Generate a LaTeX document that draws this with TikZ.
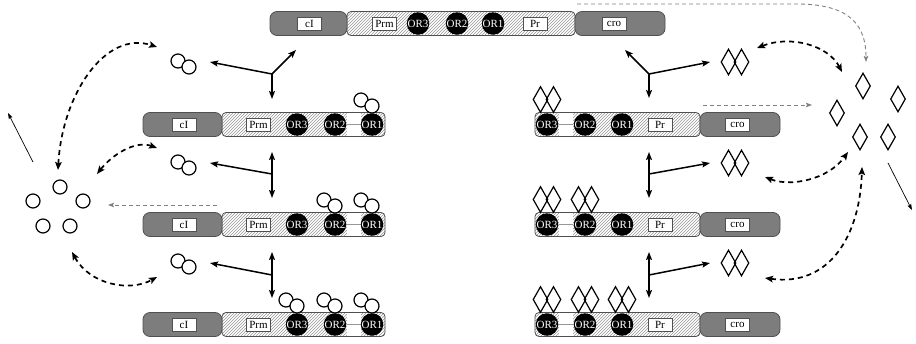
\documentclass[tikz,border=0pt]{standalone}
\usepackage{fontspec}
\setmainfont{Liberation Serif}
\usetikzlibrary{shapes.geometric,arrows.meta,patterns}

\definecolor{segdark}{RGB}{125,125,125}
\definecolor{segline}{RGB}{80,80,80}
\definecolor{hatchgray}{RGB}{150,150,150}

\tikzset{
  gene/.style={fill=segdark, draw=segline, line width=0.8pt, rounded corners=7pt},
  promoter/.style={pattern=north east lines, pattern color=hatchgray, draw=segline, line width=0.8pt, rounded corners=4pt},
  spacer/.style={fill=white, draw=none},
  spacerline/.style={draw=hatchgray, line width=0.6pt},
  lbl/.style={draw=segline, fill=white, line width=0.7pt, minimum width=24pt, minimum height=13pt, inner sep=0pt, font=\fontsize{11}{12}\selectfont},
  oper/.style={circle, fill=black, text=white, minimum size=22.5pt, inner sep=0pt, font=\fontsize{11}{12}\selectfont},
  ci/.style={circle, draw=black, fill=white, line width=1.2pt, minimum size=14pt, inner sep=0pt},
  cro/.style={diamond, draw=black, line width=1.2pt, minimum width=15pt, minimum height=26pt, inner sep=0pt},
  crofill/.style={diamond, fill=white, draw=none, minimum width=15pt, minimum height=26pt, inner sep=0pt},
  flux/.style={line width=1.5pt, -{Stealth[length=8pt,width=6pt,inset=1.5pt]}},
  fluxboth/.style={line width=1.5pt, {Stealth[length=8pt,width=6pt,inset=1.5pt]}-{Stealth[length=8pt,width=6pt,inset=1.5pt]}},
  exchange/.style={line width=1.7pt, dash pattern=on 5pt off 4pt, {Stealth[length=8pt,width=6.5pt,inset=1.5pt]}-{Stealth[length=8pt,width=6.5pt,inset=1.5pt]}},
  feed/.style={draw=gray, line width=0.9pt, dash pattern=on 4pt off 3pt, -{Stealth[length=6pt,width=4.5pt,inset=1pt]}, gray},
  decay/.style={line width=0.7pt, -{Stealth[length=6pt,width=4pt,inset=1pt]}},
}

% cI dimer: two overlapping circles
\newcommand\cidimer[3]{% name, x, y of the lower right circle
  \node[ci] (#1a) at (#2-11,#3-6) {};
  \node[ci] (#1b) at (#2,#3) {};
}
% Cro dimer: two overlapping diamonds
\newcommand\crodimer[3]{% name, x, y
  \node[crofill] at (#2-6.5,#3) {};
  \node[crofill] at (#2+6.5,#3) {};
  \node[cro] (#1a) at (#2-6.5,#3) {};
  \node[cro] (#1b) at (#2+6.5,#3) {};
}

% left operon: cI gene, Prm, OR3 OR2 OR1
\newcommand\leftoperon[2]{% name, y centre
  \draw[promoter] (222,#2-12) rectangle (385,#2+12);
  \fill[spacer] (347,#2-11.5) rectangle (361,#2+11.5);
  \draw[spacerline] (347,#2) -- (361,#2);
  \draw[gene] (143,#2-12) rectangle (222,#2+12);
  \node[lbl] (#1-cI) at (184,#2) {cI};
  \node[lbl] (#1-Prm) at (258.5,#2) {Prm};
  \node[oper] (#1-OR3) at (297,#2) {OR3};
  \node[oper] (#1-OR2) at (335,#2) {OR2};
  \node[oper] (#1-OR1) at (372,#2) {OR1};
}
% right operon: OR3 OR2 OR1, Pr, cro gene
\newcommand\rightoperon[2]{% name, y centre
  \draw[promoter] (535,#2-12) rectangle (700,#2+12);
  \fill[spacer] (559,#2-11.5) rectangle (573,#2+11.5);
  \draw[spacerline] (559,#2) -- (573,#2);
  \draw[gene] (700,#2-12) rectangle (780,#2+12);
  \node[oper] (#1-OR3) at (547,#2) {OR3};
  \node[oper] (#1-OR2) at (585,#2) {OR2};
  \node[oper] (#1-OR1) at (622,#2) {OR1};
  \node[lbl] (#1-Pr) at (660,#2) {Pr};
  \node[lbl] (#1-cro) at (737.5,#2) {cro};
}

\begin{document}
\begin{tikzpicture}[x=1pt, y=-1pt]
\useasboundingbox (0,0) rectangle (916,343);

% ---------- full operon ----------
\draw[promoter] (347,11.5) rectangle (575,35.5);
\draw[gene] (270,11.5) rectangle (347,35.5);
\draw[gene] (575,11.5) rectangle (665,35.5);
\node[lbl] (top-cI) at (309.5,23.5) {cI};
\node[lbl] (top-Prm) at (384.5,23.5) {Prm};
\node[oper] (top-OR3) at (418,23.5) {OR3};
\node[oper] (top-OR2) at (457,23.5) {OR2};
\node[oper] (top-OR1) at (493,23.5) {OR1};
\node[lbl] (top-Pr) at (535,23.5) {Pr};
\node[lbl] (top-cro) at (614,23.5) {cro};

% ---------- cI side ----------
\leftoperon{L1}{124.5}
\leftoperon{L2}{224.5}
\leftoperon{L3}{324.5}
\cidimer{bL1a}{372}{106}
\cidimer{bL2a}{335}{206}
\cidimer{bL2b}{372}{206}
\cidimer{bL3a}{297}{306}
\cidimer{bL3b}{335}{306}
\cidimer{bL3c}{372}{306}

% ---------- cro side ----------
\rightoperon{R1}{124.5}
\rightoperon{R2}{224.5}
\rightoperon{R3}{324.5}
\crodimer{bR1a}{547}{99.5}
\crodimer{bR2a}{547}{199.5}
\crodimer{bR2b}{585}{199.5}
\crodimer{bR3a}{547}{299.5}
\crodimer{bR3b}{585}{299.5}
\crodimer{bR3c}{622}{299.5}

% ---------- free dimers ----------
\cidimer{fL1}{189}{67}
\cidimer{fL2}{189}{168}
\cidimer{fL3}{189}{267}
\crodimer{fR1}{735}{62}
\crodimer{fR2}{735}{163}
\crodimer{fR3}{735}{263}

% ---------- monomer pools ----------
\node[ci] (m1) at (33,201) {};
\node[ci] (m2) at (60,187) {};
\node[ci] (m3) at (83,201) {};
\node[ci] (m4) at (43,226) {};
\node[ci] (m5) at (70,226) {};
\node[crofill] at (863,86) {};
\node[cro] (c1) at (863,86) {};
\node[cro] (c2) at (898,99) {};
\node[cro] (c3) at (837,113) {};
\node[cro] (c4) at (860,137) {};
\node[cro] (c5) at (888,137) {};

% ---------- binding / unbinding fluxes ----------
\coordinate (jL0) at (272,74);
\coordinate (uL0) at (296,50);
\coordinate (dL0) at (272,99);
\coordinate (sL0) at (210,62);
\draw[flux] (jL0) -- (uL0);
\draw[flux] (jL0) -- (dL0);
\draw[flux] (jL0) -- (sL0);

\coordinate (jR0) at (649,74);
\coordinate (uR0) at (625,50);
\coordinate (dR0) at (649,98);
\coordinate (sR0) at (710,62);
\draw[flux] (jR0) -- (uR0);
\draw[flux] (jR0) -- (dR0);
\draw[flux] (jR0) -- (sR0);

\coordinate (uL1) at (272,152);
\coordinate (dL1) at (272,198);
\coordinate (jL1) at (272,174);
\coordinate (sL1) at (210,163);
\draw[fluxboth] (uL1) -- (dL1);
\draw[flux] (jL1) -- (sL1);

\coordinate (uL2) at (272,252);
\coordinate (dL2) at (272,298);
\coordinate (jL2) at (272,275);
\coordinate (sL2) at (210,263);
\draw[fluxboth] (uL2) -- (dL2);
\draw[flux] (jL2) -- (sL2);

\coordinate (uR1) at (649,152);
\coordinate (dR1) at (649,198);
\coordinate (jR1) at (649,174);
\coordinate (sR1) at (710,163);
\draw[fluxboth] (uR1) -- (dR1);
\draw[flux] (jR1) -- (sR1);

\coordinate (uR2) at (649,252);
\coordinate (dR2) at (649,298);
\coordinate (jR2) at (649,275);
\coordinate (sR2) at (710,263);
\draw[fluxboth] (uR2) -- (dR2);
\draw[flux] (jR2) -- (sR2);

% ---------- dimerisation exchanges ----------
\coordinate (eL1a) at (58,170);
\coordinate (eL1b) at (157,47);
\draw[exchange] (eL1a) .. controls (62,95) and (105,30) .. (eL1b);
\coordinate (eL2a) at (97,174);
\coordinate (eL2b) at (157,148);
\draw[exchange] (eL2a) .. controls (112,155) and (135,140) .. (eL2b);
\coordinate (eL3a) at (72,252);
\coordinate (eL3b) at (157,277);
\draw[exchange] (eL3a) .. controls (90,285) and (130,292) .. (eL3b);

\coordinate (eR1a) at (757,48);
\coordinate (eR1b) at (842,72);
\draw[exchange] (eR1a) .. controls (790,35) and (828,45) .. (eR1b);
\coordinate (eR2a) at (765,177);
\coordinate (eR2b) at (848,152);
\draw[exchange] (eR2a) .. controls (790,187) and (828,180) .. (eR2b);
\coordinate (eR3a) at (765,278);
\coordinate (eR3b) at (862,167);
\draw[exchange] (eR3a) .. controls (830,287) and (860,235) .. (eR3b);

% ---------- expression ----------
\coordinate (xT0) at (577,4);
\coordinate (xT1) at (800,4);
\coordinate (xT2) at (866,62);
\draw[feed] (xT0) -- (xT1) .. controls (850,5) and (866,25) .. (xT2);
\coordinate (xR0) at (703,105);
\coordinate (xR1) at (812,105);
\draw[feed] (xR0) -- (xR1);
\coordinate (xL0) at (217,205);
\coordinate (xL1) at (108,205);
\draw[feed] (xL0) -- (xL1);

% ---------- degradation ----------
\coordinate (dgL0) at (33,162);
\coordinate (dgL1) at (8,113);
\draw[decay] (dgL0) -- (dgL1);
\coordinate (dgR0) at (888,163);
\coordinate (dgR1) at (912,210);
\draw[decay] (dgR0) -- (dgR1);
\end{tikzpicture}
\end{document}
